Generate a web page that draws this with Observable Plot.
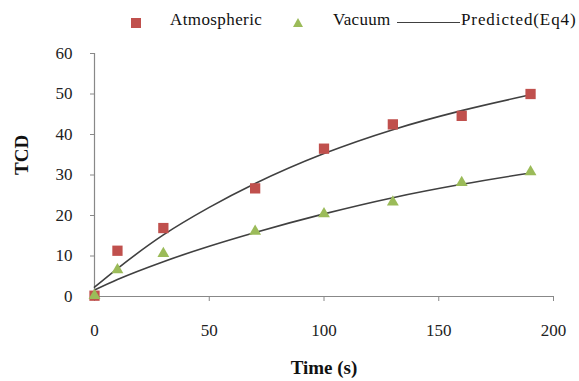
<!DOCTYPE html>
<html>
<head>
<meta charset="utf-8">
<script src="https://cdn.jsdelivr.net/npm/d3@7"></script>
<script src="https://cdn.jsdelivr.net/npm/@observablehq/plot@0.6"></script>
<style>
  html, body { margin: 0; padding: 0; background: #fff; }
  #wrap { width: 579px; height: 381px; position: relative; overflow: hidden; }
  #legend { position: relative; width: 579px; height: 40px; font-family: "Liberation Serif", "Times New Roman", serif; font-size: 17px; color: #111; }
  #legend .t { position: absolute; top: 10px; white-space: nowrap; }
  #legend .sq { position: absolute; left: 131px; top: 18px; width: 10px; height: 10px; background: #C0504D; }
  #legend .tri { position: absolute; left: 293px; top: 18px; width: 0; height: 0; border-left: 5px solid transparent; border-right: 5px solid transparent; border-bottom: 9px solid #9BBB59; }
  #legend .ln { position: absolute; left: 397px; top: 22px; width: 63px; height: 0; border-top: 1.5px solid #404040; }
</style>
</head>
<body>
<div id="wrap">
  <div id="legend">
    <div class="sq"></div><div class="t" style="left:170px;letter-spacing:0.4px">Atmospheric</div>
    <div class="tri"></div><div class="t" style="left:333px;letter-spacing:0.3px">Vacuum</div>
    <div class="ln"></div><div class="t" style="left:461px;letter-spacing:0.9px">Predicted(Eq4)</div>
  </div>
  <div id="chart"></div>
</div>
<script>
// Measured data
const time = [0, 10, 30, 70, 100, 130, 160, 190];
const atmospheric = [0.2, 11.3, 16.9, 26.7, 36.5, 42.5, 44.6, 50.0];
const vacuum = [0.2, 6.6, 10.6, 16.1, 20.4, 23.3, 28.1, 30.8];

// Predicted (Eq4) curves
const predTime = [0, 10, 30, 50, 70, 100, 130, 160, 190];
const predAtmospheric = [2.3, 6.9, 15.2, 22.0, 27.9, 35.3, 41.2, 45.9, 49.8];
const predVacuum = [1.6, 4.2, 8.6, 12.4, 15.8, 20.4, 24.4, 27.7, 30.5];

const xTicks = [0, 50, 100, 150, 200];
const yTicks = [0, 10, 20, 30, 40, 50, 60];

const atmData = time.map((t, i) => ({t, v: atmospheric[i]}));
const vacData = time.map((t, i) => ({t, v: vacuum[i]}));
const predAtm = predTime.map((t, i) => ({t, v: predAtmospheric[i]}));
const predVac = predTime.map((t, i) => ({t, v: predVacuum[i]}));

const axisColor = "#888888";
const tickFont = "Liberation Serif, Times New Roman, serif";

const chart = Plot.plot({
  width: 579,
  height: 341,
  marginTop: 13,
  marginBottom: 85,
  marginLeft: 94,
  marginRight: 26,
  style: { fontFamily: tickFont, fontSize: "17px", color: "#222", background: "#fff", overflow: "visible" },
  x: { domain: [0, 200] },
  y: { domain: [0, 60] },
  marks: [
    Plot.ruleY([0], { stroke: axisColor, strokeWidth: 1.2 }),
    Plot.ruleX([0], { stroke: axisColor, strokeWidth: 1.2 }),
    Plot.axisX({ ticks: xTicks, tickSize: 5, tickPadding: 22, stroke: axisColor, label: null, fill: "#222" }),
    Plot.axisY({ ticks: yTicks, tickSize: 4, tickPadding: 18, stroke: axisColor, label: null, fill: "#222" }),
    Plot.line(predAtm, { x: "t", y: "v", curve: "monotone-x", stroke: "#404040", strokeWidth: 1.6 }),
    Plot.line(predVac, { x: "t", y: "v", curve: "monotone-x", stroke: "#404040", strokeWidth: 1.6 }),
    Plot.dot(atmData, { x: "t", y: "v", symbol: "square", r: 5.8, fill: "#C0504D", stroke: "none" }),
    Plot.dot(vacData, { x: "t", y: "v", symbol: "triangle", r: 4.4, fill: "#9BBB59", stroke: "none" }),
    Plot.text(["Time (s)"], { frameAnchor: "bottom", dy: 77, text: d => d, fontWeight: "bold", fontSize: 19, fill: "#111" }),
    Plot.text(["TCD"], { frameAnchor: "left", dx: -73, rotate: -90, text: d => d, fontWeight: "bold", fontSize: 19, fill: "#111" })
  ]
});
document.getElementById("chart").appendChild(chart);
</script>
</body>
</html>
